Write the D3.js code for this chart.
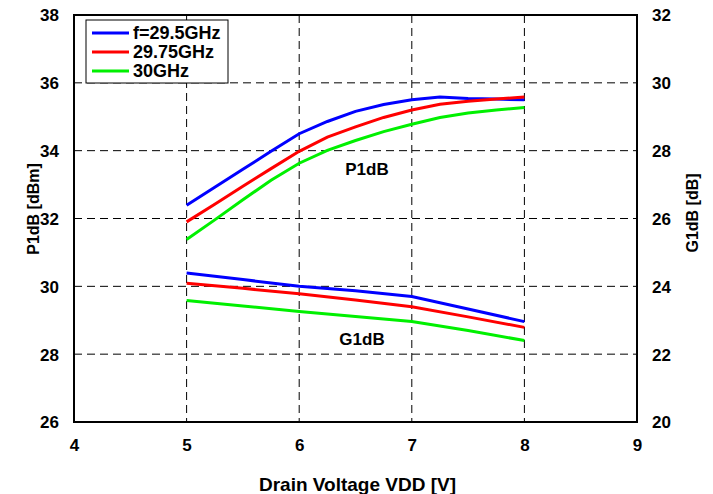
<!DOCTYPE html>
<html><head><meta charset="utf-8">
<script src="https://cdn.jsdelivr.net/npm/d3@7/dist/d3.min.js"></script>
<style>body{margin:0;background:#fff}svg{display:block}text{font-family:"Liberation Sans",Arial,sans-serif;font-weight:bold;fill:#000}</style>
</head><body><svg id="c" width="713" height="494"></svg>
<script>
const xTicks=[4,5,6,7,8,9];
const yLeftTicks=[26,28,30,32,34,36,38];
const yRightTicks=[20,22,24,26,28,30,32];
const seriesNames=["f=29.5GHz","29.75GHz","30GHz"];
const seriesColors=["#0000ff","#ff0000","#00f000"];
const vddP=[5,5.25,5.5,5.75,6,6.25,6.5,6.75,7,7.25,7.5,7.75,8];
const p1dB_295=[32.39,32.92,33.45,33.98,34.5,34.86,35.16,35.36,35.5,35.58,35.54,35.52,35.5];
const p1dB_2975=[31.9,32.42,32.95,33.47,33.98,34.4,34.7,34.98,35.2,35.37,35.46,35.52,35.58];
const p1dB_30=[31.38,31.96,32.55,33.13,33.63,34.01,34.3,34.56,34.78,34.98,35.11,35.2,35.27];
const vddG=[5,5.5,6,6.5,7,7.5,8];
const g1dB_295=[24.39,24.2,24.0,23.87,23.7,23.33,22.96];
const g1dB_2975=[24.09,23.94,23.78,23.6,23.4,23.1,22.79];
const g1dB_30=[23.58,23.42,23.26,23.11,22.96,22.7,22.4];

const svg=d3.select("#c");
const L=74,R=637,T=15,B=422;
const x=d3.scaleLinear().domain([4,9]).range([L,R]);
const yL=d3.scaleLinear().domain([26,38]).range([B,T]);
const yR=d3.scaleLinear().domain([20,32]).range([B,T]);

// grid
const g=svg.append("g");
xTicks.slice(1,-1).forEach(v=>g.append("line").attr("x1",x(v)).attr("x2",x(v)).attr("y1",T).attr("y2",B)
  .attr("stroke","#000").attr("stroke-width",1).attr("stroke-dasharray","8,5"));
yLeftTicks.slice(1,-1).forEach(v=>g.append("line").attr("x1",L).attr("x2",R).attr("y1",yL(v)).attr("y2",yL(v))
  .attr("stroke","#000").attr("stroke-width",1).attr("stroke-dasharray","8,5"));

// axes (labels via d3 axes)
const fmt=d3.format("d");
const axL=svg.append("g").attr("transform",`translate(${L},0)`).call(d3.axisLeft(yL).tickValues(yLeftTicks).tickFormat(fmt).tickSize(0).tickPadding(15));
const axR=svg.append("g").attr("transform",`translate(${R},0)`).call(d3.axisRight(yR).tickValues(yRightTicks).tickFormat(fmt).tickSize(0).tickPadding(15));
const axB=svg.append("g").attr("transform",`translate(0,${B})`).call(d3.axisBottom(x).tickValues(xTicks).tickFormat(fmt).tickSize(0).tickPadding(17));
[axL,axR,axB].forEach(a=>{a.select(".domain").remove();a.selectAll("text").attr("font-size",17).attr("font-family","Liberation Sans, Arial").attr("font-weight","bold").attr("fill","#000");});
axL.selectAll("text").attr("dy","0.35em");
axR.selectAll("text").attr("dy","0.35em");

// border
svg.append("rect").attr("x",L).attr("y",T).attr("width",R-L).attr("height",B-T).attr("fill","none").attr("stroke","#000").attr("stroke-width",2);

// lines
const pData=[p1dB_295,p1dB_2975,p1dB_30];
const gData=[g1dB_295,g1dB_2975,g1dB_30];
const lineP=d3.line().x((d,i)=>x(vddP[i])).y(d=>yL(d));
const lineG=d3.line().x((d,i)=>x(vddG[i])).y(d=>yR(d));
pData.forEach((s,k)=>svg.append("path").attr("d",lineP(s)).attr("fill","none").attr("stroke",seriesColors[k]).attr("stroke-width",3));
gData.forEach((s,k)=>svg.append("path").attr("d",lineG(s)).attr("fill","none").attr("stroke",seriesColors[k]).attr("stroke-width",3));

// annotations
svg.append("text").attr("x",367).attr("y",175).attr("text-anchor","middle").attr("font-size",17).text("P1dB");
svg.append("text").attr("x",362).attr("y",345).attr("text-anchor","middle").attr("font-size",17).text("G1dB");

// axis titles
svg.append("text").attr("x",(L+R)/2+2).attr("y",491).attr("text-anchor","middle").attr("font-size",19).text("Drain Voltage VDD [V]");
svg.append("text").attr("transform","translate(39,209) rotate(-90)").attr("text-anchor","middle").attr("font-size",16).text("P1dB [dBm]");
svg.append("text").attr("transform","translate(698,213) rotate(-90)").attr("text-anchor","middle").attr("font-size",16).text("G1dB [dB]");

// legend
const lg=svg.append("g");
lg.append("rect").attr("x",86).attr("y",20).attr("width",142).attr("height",63).attr("fill","#fff").attr("stroke","#000").attr("stroke-width",1);
seriesNames.forEach((n,i)=>{
  const yy=33+i*19;
  lg.append("line").attr("x1",92).attr("x2",129).attr("y1",yy).attr("y2",yy).attr("stroke",seriesColors[i]).attr("stroke-width",3);
  lg.append("text").attr("x",133).attr("y",yy+6).attr("font-size",18).text(n);
});
</script></body></html>
